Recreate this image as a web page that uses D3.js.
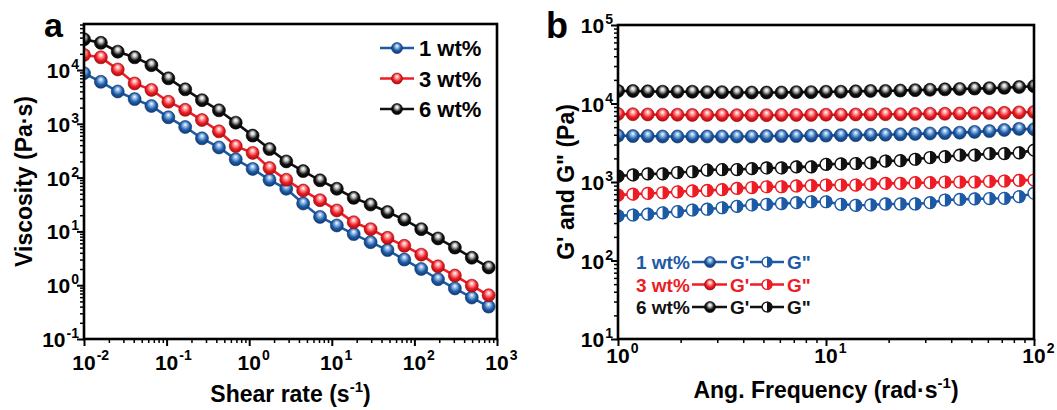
<!DOCTYPE html>
<html>
<head>
<meta charset="utf-8">
<script src="https://cdn.jsdelivr.net/npm/d3@7"></script>
<style>
  body { margin: 0; background: #fff; }
  text { font-family: "Liberation Sans", Arial, sans-serif; font-weight: bold; }
</style>
</head>
<body>
<svg id="chart" width="1057" height="410"></svg>
<script>
// ---- panel a: viscosity vs shear rate ----
const shearRate = [0.01, 0.016, 0.0256, 0.041, 0.0655, 0.105, 0.168, 0.268, 0.43, 0.687,
  1.1, 1.76, 2.81, 4.5, 7.2, 11.5, 18.4, 29.5, 47.2, 75.5, 121, 193, 309, 495, 792];
const visc1 = [8710, 6030, 3980, 2880, 2140, 1320, 871, 537, 363, 219, 145, 91, 62, 33,
  18.6, 12.9, 8.9, 6.3, 4.5, 3.0, 2.0, 1.29, 0.87, 0.59, 0.40];
const visc3 = [19050, 17200, 10230, 5620, 4270, 2570, 1820, 1175, 724, 385, 288, 151, 91,
  57.5, 38, 24.5, 14.8, 11.0, 7.6, 5.4, 3.7, 2.24, 1.51, 0.98, 0.65];
const visc6 = [37150, 32000, 21900, 17200, 12300, 7000, 4370, 2750, 1780, 1050, 603, 339,
  200, 132, 89, 62, 42, 31.6, 22.9, 16.6, 11.0, 7.4, 5.0, 3.24, 2.14];

// ---- panel b: G' / G'' vs angular frequency ----
const angFreq = [1, 1.179, 1.389, 1.638, 1.931, 2.276, 2.683, 3.162, 3.728, 4.394, 5.179,
  6.105, 7.197, 8.483, 10, 11.79, 13.89, 16.38, 19.31, 22.76, 26.83, 31.62, 37.28, 43.94,
  51.79, 61.05, 71.97, 84.83, 100];
const gp1 = [3900, 3850, 3850, 3800, 3800, 3800, 3800, 3800, 3800, 3800, 3850, 3850, 3850,
  3900, 3900, 3950, 3950, 4000, 4000, 4050, 4100, 4150, 4200, 4250, 4350, 4450, 4600, 4750, 4700];
const gp3 = [7350, 7300, 7250, 7200, 7200, 7150, 7150, 7150, 7100, 7100, 7100, 7150, 7150,
  7150, 7200, 7200, 7250, 7250, 7300, 7300, 7350, 7400, 7400, 7450, 7500, 7550, 7600, 7700, 7800];
const gp6 = [14450, 14450, 14290, 14130, 14130, 14130, 13960, 13960, 13800, 13800, 13800,
  13800, 13960, 13960, 14130, 14130, 14290, 14450, 14450, 14620, 14790, 14960, 15140, 15310,
  15490, 15670, 15850, 16220, 16600];
const gpp1 = [370, 380, 390, 405, 420, 440, 450, 470, 490, 510, 520, 530, 545, 560, 560,
  520, 505, 510, 525, 525, 525, 545, 590, 600, 610, 615, 620, 650, 720];
const gpp3 = [680, 700, 715, 730, 750, 770, 780, 800, 830, 850, 870, 870, 890, 900, 915,
  915, 915, 940, 960, 960, 980, 980, 1000, 1000, 1000, 1020, 1030, 1050, 1060];
const gpp6 = [1190, 1230, 1270, 1270, 1320, 1350, 1420, 1440, 1440, 1480, 1510, 1510, 1560,
  1560, 1680, 1700, 1720, 1750, 1850, 1870, 1950, 2050, 2100, 2200, 2200, 2300, 2300, 2350, 2550];

const concLabels = ['1 wt%', '3 wt%', '6 wt%'];
const aXExps = [-2, -1, 0, 1, 2, 3];
const aYExps = [-1, 0, 1, 2, 3, 4];
const bXExps = [0, 1, 2];
const bYExps = [1, 2, 3, 4, 5];

const COLORS = ['#1d5aa5', '#ee1c24', '#111111'];
const LIGHT = ['#9ec4ee', '#ffb0b0', '#cfcfcf'];
const DARK = ['#0d3468', '#9a0a0e', '#000000'];

const svg = d3.select('#chart');
const defs = svg.append('defs');

COLORS.forEach((c, i) => {
  const gr = defs.append('radialGradient').attr('id', 'sph' + i)
    .attr('cx', 0.5).attr('cy', 0.45).attr('r', 0.6).attr('fx', 0.5).attr('fy', 0.3);
  gr.append('stop').attr('offset', '0%').attr('stop-color', '#ffffff');
  gr.append('stop').attr('offset', '22%').attr('stop-color', LIGHT[i]);
  gr.append('stop').attr('offset', '60%').attr('stop-color', c);
  gr.append('stop').attr('offset', '100%').attr('stop-color', DARK[i]);
});

function minorTicks(lo, hi) {
  const out = [];
  for (let e = Math.floor(Math.log10(lo)); e <= Math.ceil(Math.log10(hi)); e++) {
    for (let m = 2; m <= 9; m++) {
      const v = m * Math.pow(10, e);
      if (v > lo && v < hi) out.push(v);
    }
  }
  return out;
}

function drawPanel(box, xDom, yDom, xExps, yExps, opts) {
  const g = svg.append('g');
  const x = d3.scaleLog().domain(xDom).range([box.x0, box.x1]);
  const y = d3.scaleLog().domain(yDom).range([box.y1, box.y0]);

  const clipId = 'clip' + opts.id;
  defs.append('clipPath').attr('id', clipId).append('rect')
    .attr('x', box.x0).attr('y', box.y0).attr('width', box.x1 - box.x0).attr('height', box.y1 - box.y0);

  // ticks (outward)
  const tickStyle = (sel, w) => {
    sel.select('.domain').remove();
    sel.selectAll('line').attr('stroke', '#000').attr('stroke-width', w);
  };
  const xMaj = xExps.map(e => Math.pow(10, e));
  const yMaj = yExps.map(e => Math.pow(10, e));
  g.append('g').attr('transform', `translate(0,${box.y1})`)
    .call(d3.axisBottom(x).tickValues(xMaj).tickFormat('').tickSize(7)).call(tickStyle, 2);
  g.append('g').attr('transform', `translate(0,${box.y1})`)
    .call(d3.axisBottom(x).tickValues(minorTicks(xDom[0], xDom[1])).tickFormat('').tickSize(4)).call(tickStyle, 1.5);
  g.append('g').attr('transform', `translate(${box.x0},0)`)
    .call(d3.axisLeft(y).tickValues(yMaj).tickFormat('').tickSize(7)).call(tickStyle, 2);
  g.append('g').attr('transform', `translate(${box.x0},0)`)
    .call(d3.axisLeft(y).tickValues(minorTicks(yDom[0], yDom[1])).tickFormat('').tickSize(4)).call(tickStyle, 1.5);

  // x tick labels: "10" centred on tick, exponent to the right
  xExps.forEach(e => {
    const px = x(Math.pow(10, e));
    const t = g.append('text').attr('x', px).attr('y', opts.xLabelY)
      .attr('text-anchor', 'middle').attr('font-size', 21).text('10');
    const w = t.node().getComputedTextLength();
    g.append('text').attr('x', px + w / 2 + 1).attr('y', opts.xLabelY - 10)
      .attr('font-size', 14).text(String(e));
  });
  // y tick labels: right aligned to the left of the axis
  yExps.forEach(e => {
    const py = y(Math.pow(10, e));
    const sup = g.append('text').attr('y', py - 1).attr('font-size', 14)
      .attr('text-anchor', 'end').attr('x', box.x0 - 5).text(String(e));
    const sw = sup.node().getComputedTextLength();
    g.append('text').attr('x', box.x0 - 6 - sw).attr('y', py + 8)
      .attr('text-anchor', 'end').attr('font-size', 21).text('10');
  });

  const plot = g.append('g').attr('clip-path', `url(#${clipId})`);
  return { g, plot, x, y };
}

function sphere(sel, r, ci) {
  sel.append('circle').attr('r', r).attr('fill', `url(#sph${ci})`)
    .attr('stroke', DARK[ci]).attr('stroke-width', 0.6);
}
function halfMarker(sel, r, ci) {
  sel.append('circle').attr('r', r - 0.6).attr('fill', '#fff')
    .attr('stroke', COLORS[ci]).attr('stroke-width', 1.4);
  sel.append('path').attr('d', `M0,${-r} A${r},${r} 0 0 1 0,${r} Z`).attr('fill', COLORS[ci]);
}

function series(plot, x, y, xs, ys, ci, kind) {
  const pts = xs.map((v, i) => ({ x: v, y: ys[i] }));
  const line = d3.line().x(d => x(d.x)).y(d => y(d.y));
  plot.append('path').datum(pts).attr('d', line).attr('fill', 'none')
    .attr('stroke', COLORS[ci]).attr('stroke-width', 2.6);
  plot.selectAll(null).data(pts).join('g')
    .attr('transform', d => `translate(${x(d.x)},${y(d.y)})`)
    .each(function () {
      if (kind === 'half') halfMarker(d3.select(this), 6.5, ci);
      else sphere(d3.select(this), 6.5, ci);
    });
}

function frame(g, box) {
  g.append('rect').attr('x', box.x0).attr('y', box.y0)
    .attr('width', box.x1 - box.x0).attr('height', box.y1 - box.y0)
    .attr('fill', 'none').attr('stroke', '#000').attr('stroke-width', 2.6);
}

// ---------- panel a ----------
const boxA = { x0: 84, x1: 497, y0: 24, y1: 339 };
const A = drawPanel(boxA, [0.01, 1000], [0.1, 71600], aXExps, aYExps, { id: 'a', xLabelY: 370 });
[visc1, visc3, visc6].forEach((v, i) => series(A.plot, A.x, A.y, shearRate, v, i, 'full'));
frame(A.g, boxA);

// legend a
concLabels.forEach((lab, i) => {
  const ly = 48 + i * 30.5;
  const lg = A.g.append('g');
  lg.append('line').attr('x1', 380).attr('x2', 414).attr('y1', ly).attr('y2', ly)
    .attr('stroke', COLORS[i]).attr('stroke-width', 2.6);
  sphere(lg.append('g').attr('transform', `translate(397,${ly})`), 5.5, i);
  lg.append('text').attr('x', 419).attr('y', ly + 8).attr('font-size', 22).text(lab);
});

A.g.append('text').attr('x', 44).attr('y', 37).attr('font-size', 34).text('a');
A.g.append('text').attr('transform', `translate(32,${(boxA.y0 + boxA.y1) / 2}) rotate(-90)`)
  .attr('text-anchor', 'middle').attr('font-size', 23).text('Viscosity (Pa·s)');
const tA = A.g.append('text').attr('x', (boxA.x0 + boxA.x1) / 2).attr('y', 402)
  .attr('text-anchor', 'middle').attr('font-size', 23);
tA.append('tspan').text('Shear rate (s');
tA.append('tspan').attr('dy', -10).attr('font-size', 15).text('-1');
tA.append('tspan').attr('dy', 10).text(')');

// ---------- panel b ----------
const boxB = { x0: 618, x1: 1034, y0: 25, y1: 339 };
const B = drawPanel(boxB, [1, 100], [10, 100000], bXExps, bYExps, { id: 'b', xLabelY: 363 });
[gp1, gp3, gp6].forEach((v, i) => series(B.plot, B.x, B.y, angFreq, v, i, 'full'));
[gpp1, gpp3, gpp6].forEach((v, i) => series(B.plot, B.x, B.y, angFreq, v, i, 'half'));
frame(B.g, boxB);

// legend b
concLabels.forEach((lab, i) => {
  const ly = 262 + i * 22.5;
  const lg = B.g.append('g');
  lg.append('text').attr('x', 636).attr('y', ly + 7).attr('font-size', 19)
    .attr('fill', COLORS[i]).text(lab);
  lg.append('line').attr('x1', 692).attr('x2', 727).attr('y1', ly).attr('y2', ly)
    .attr('stroke', COLORS[i]).attr('stroke-width', 2.4);
  sphere(lg.append('g').attr('transform', `translate(710,${ly})`), 5.5, i);
  lg.append('text').attr('x', 730).attr('y', ly + 7).attr('font-size', 19)
    .attr('fill', COLORS[i]).text("G'");
  lg.append('line').attr('x1', 750).attr('x2', 784).attr('y1', ly).attr('y2', ly)
    .attr('stroke', COLORS[i]).attr('stroke-width', 2.4);
  halfMarker(lg.append('g').attr('transform', `translate(767,${ly})`), 5.5, i);
  lg.append('text').attr('x', 787).attr('y', ly + 7).attr('font-size', 19)
    .attr('fill', COLORS[i]).text('G"');
});

B.g.append('text').attr('x', 546).attr('y', 38).attr('font-size', 36).text('b');
B.g.append('text').attr('transform', `translate(574,${(boxB.y0 + boxB.y1) / 2}) rotate(-90)`)
  .attr('text-anchor', 'middle').attr('font-size', 23).text('G\' and G" (Pa)');
const tB = B.g.append('text').attr('x', (boxB.x0 + boxB.x1) / 2).attr('y', 398)
  .attr('text-anchor', 'middle').attr('font-size', 23);
tB.append('tspan').text('Ang. Frequency (rad·s');
tB.append('tspan').attr('dy', -10).attr('font-size', 15).text('-1');
tB.append('tspan').attr('dy', 10).text(')');
</script>
</body>
</html>
